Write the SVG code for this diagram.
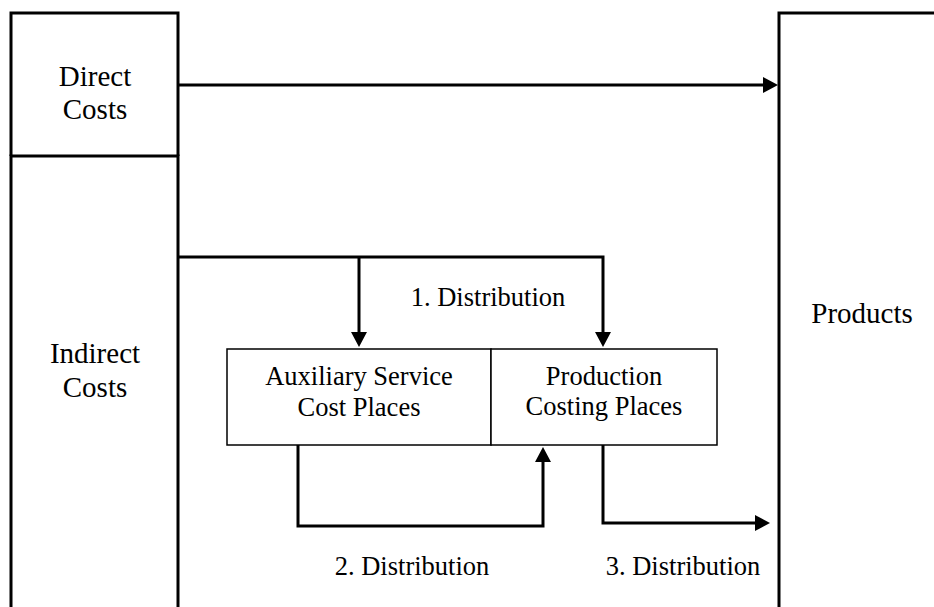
<svg xmlns="http://www.w3.org/2000/svg" width="934" height="607" viewBox="0 0 934 607">
  <style>
    .frame { fill: none; stroke: #000; stroke-width: 3; }
    .box { fill: #fff; stroke: #000; stroke-width: 1.5; }
    .flow { fill: none; stroke: #000; stroke-width: 3; marker-end: url(#head); }
    text { font-family: "Liberation Serif", "Times New Roman", serif; font-size: 26.5px; fill: #000; text-anchor: middle; }
    text.big { font-size: 29px; }
  </style>
  <defs>
    <marker id="head" markerUnits="userSpaceOnUse" markerWidth="16" markerHeight="17" viewBox="0 -8.5 16 17" refX="0" refY="0" orient="auto">
      <path d="M0,-8 L15,0 L0,8 Z" fill="#000"/>
    </marker>
  </defs>

  <rect width="934" height="607" fill="#fff"/>

  <!-- cost sources on the left -->
  <g id="direct-costs">
    <path class="frame" d="M11,156 V13 H178 V156"/>
    <text class="big" x="95" y="86">Direct</text>
    <text class="big" x="95" y="119">Costs</text>
  </g>
  <g id="indirect-costs">
    <path class="frame" d="M11,612 V156 H178 V612"/>
    <text class="big" x="95" y="363">Indirect</text>
    <text class="big" x="95" y="397">Costs</text>
  </g>

  <!-- cost places -->
  <g id="auxiliary-service">
    <rect class="box" x="227" y="349" width="264" height="96"/>
    <text x="359" y="385">Auxiliary Service</text>
    <text x="359" y="416">Cost Places</text>
  </g>
  <g id="production-costing">
    <rect class="box" x="491" y="349" width="226" height="96"/>
    <text x="604" y="385">Production</text>
    <text x="604" y="415">Costing Places</text>
  </g>

  <!-- cost objects on the right -->
  <g id="products">
    <path class="frame" d="M779,612 V13 H940"/>
    <text class="big" x="862" y="323">Products</text>
  </g>

  <!-- flows -->
  <g id="connectors">
    <path class="flow" d="M178,85 H763"/>
    <path class="flow" d="M178,257 H603 V332"/>
    <path class="flow" d="M359,257 V332"/>
    <path class="flow" d="M298,445 V526 H543 V462"/>
    <path class="flow" d="M603,445 V523 H755"/>
    <text x="488" y="306">1. Distribution</text>
    <text x="412" y="575">2. Distribution</text>
    <text x="683" y="575">3. Distribution</text>
  </g>
</svg>
